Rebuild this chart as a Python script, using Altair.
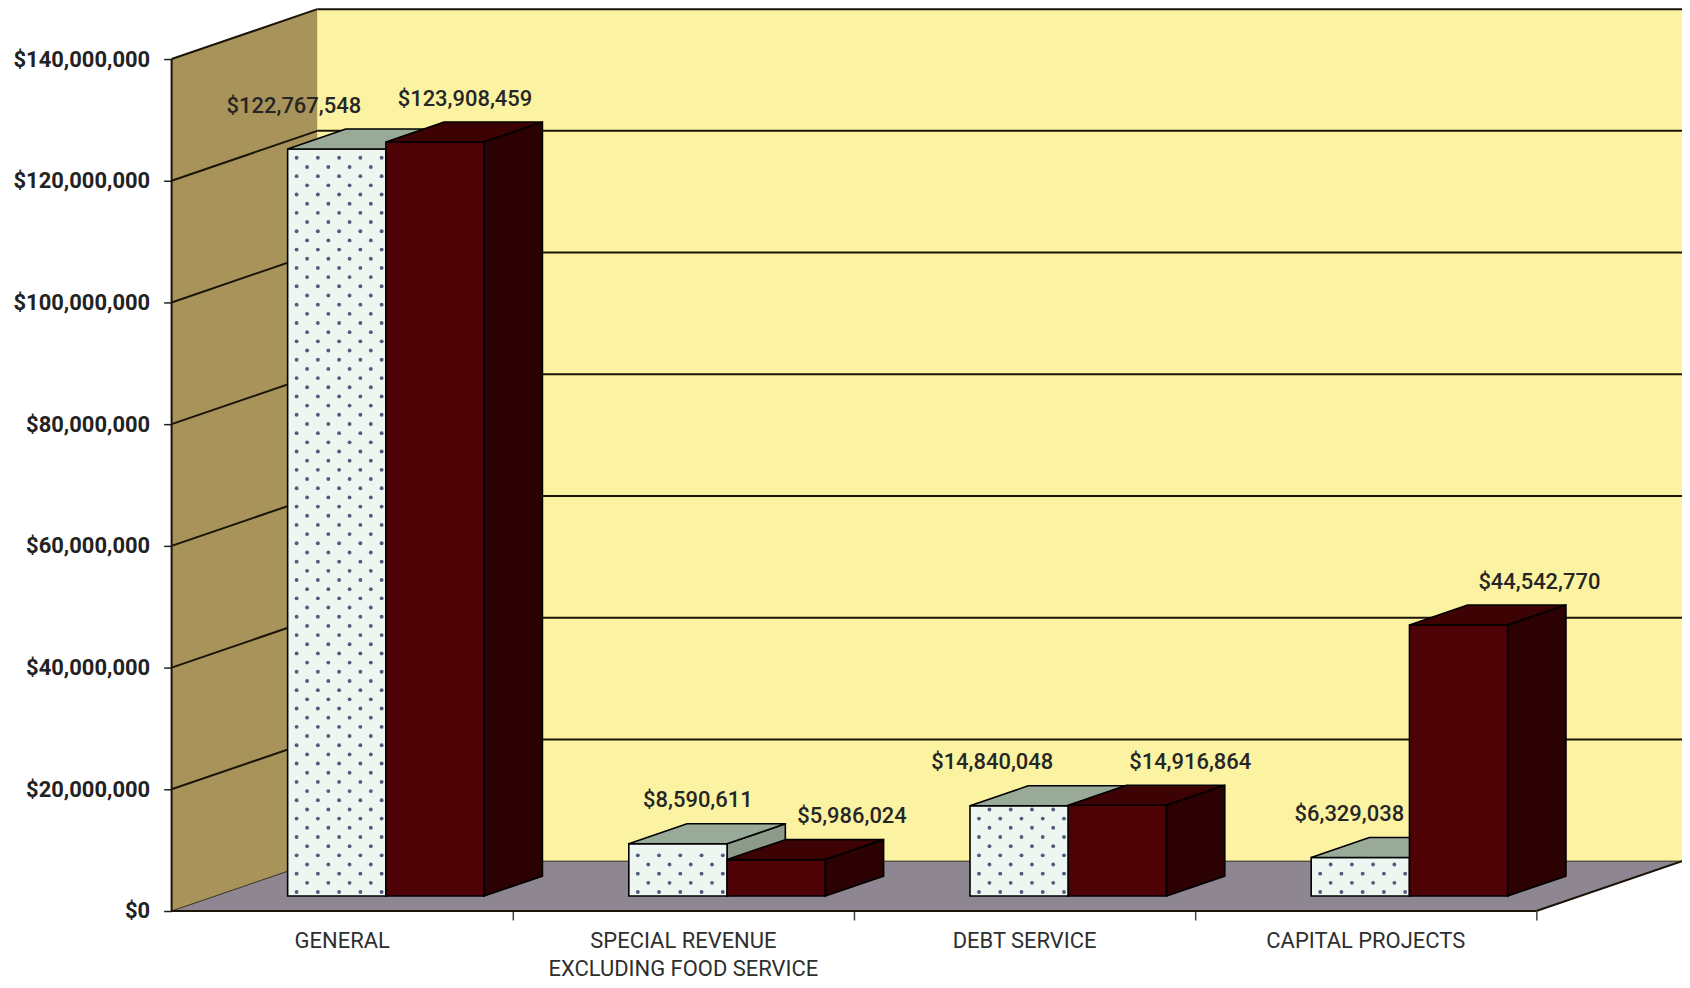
import altair as alt
import pandas as pd

# ---------------- data ----------------
categories = ["GENERAL", "SPECIAL REVENUE\nEXCLUDING FOOD SERVICE", "DEBT SERVICE", "CAPITAL PROJECTS"]
light_values = [122767548, 8590611, 14840048, 6329038]
dark_values = [123908459, 5986024, 14916864, 44542770]
y_tick_values = [0, 20000000, 40000000, 60000000, 80000000, 100000000, 120000000, 140000000]

# ---------------- style / geometry ----------------
label_nudge_light = [-43, 20, -27, -11]   # px nudges of value labels
label_nudge_dark = [30, 76, 73, 81]

CAT_PX = 342.0
DEPTH_X_PX = 146.0
DEPTH_Y_PX = 50.0
PX_PER_YMAX = 854.0
YMAX = 140000000
NCAT = len(categories)
W = NCAT * CAT_PX + DEPTH_X_PX
H = PX_PER_YMAX + DEPTH_Y_PX
XU = 1.0 / CAT_PX            # x units per px
YU = YMAX / PX_PER_YMAX      # dollars per px
DX = DEPTH_X_PX * XU
DY = DEPTH_Y_PX * YU
Z0, Z1 = 0.3, 0.7
BW = 98.5 * XU

FONT = "Roboto"
C_BACK = "#fcf3a2"
C_LEFT = "#a8945a"
C_FLOOR = "#8e8690"
C_LINE = "#1b1408"
C_LIGHT_FRONT = "#eef6f2"
C_LIGHT_TOP = "#9aaa98"
C_LIGHT_SIDE = "#8c9b8a"
C_DARK_FRONT = "#4e0205"
C_DARK_TOP = "#3c0204"
C_DARK_SIDE = "#2b0103"
C_DOT = "#4f5d7a"

xs = alt.Scale(domain=[0, NCAT + DX], nice=False, zero=False)
ys = alt.Scale(domain=[0, YMAX + DY], nice=False, zero=False)

AX_X = alt.Axis(values=[1, 2, 3, 4], labels=False, ticks=True, tickSize=9,
                tickWidth=1.5, tickColor="#444", domain=False, grid=False, title=None)
AX_Y = alt.Axis(values=y_tick_values, format="$,.0f", labelFont=FONT, labelFontSize=22,
                labelFontWeight="bold", labelColor="#222", tickSize=8, tickWidth=1.5,
                tickColor="#222", labelPadding=14, domain=False, grid=False, title=None)


def X(f):
    return alt.X(f, type="quantitative", scale=xs, stack=None, axis=AX_X)


def Y(f):
    return alt.Y(f, type="quantitative", scale=ys, stack=None, axis=AX_Y)


# ---------------- tables built from the arrays ----------------
bars = []
for i, (lv, dv) in enumerate(zip(light_values, dark_values)):
    c = i + 0.5
    bars.append(dict(cat=i, s="light", x0=c - BW, x1=c, v=lv, nudge=label_nudge_light[i]))
    bars.append(dict(cat=i, s="dark", x0=c, x1=c + BW, v=dv, nudge=label_nudge_dark[i]))

front, top, side, labels = [], [], [], []
for b in bars:
    key = f"{b['s']}{b['cat']}"
    front.append(dict(s=b["s"], x=b["x0"] + Z0 * DX, x2=b["x1"] + Z0 * DX, y=Z0 * DY, y2=b["v"] + Z0 * DY))
    for z in (Z0, Z1):
        top.append(dict(s=b["s"], key=key, y=b["v"] + z * DY, x=b["x0"] + z * DX, x2=b["x1"] + z * DX))
        side.append(dict(s=b["s"], key=key, x=b["x1"] + z * DX, y=z * DY, y2=b["v"] + z * DY))
    labels.append(dict(s=b["s"], v=b["v"],
                       x=(b["x0"] + b["x1"]) / 2 + Z0 * DX + b["nudge"] * XU,
                       y=b["v"] + Z1 * DY))

front = pd.DataFrame(front)
top = pd.DataFrame(top)
side = pd.DataFrame(side)
labels = pd.DataFrame(labels)

# dot pattern on the light bars' front faces
dots = []
for b in bars:
    if b["s"] != "light":
        continue
    h_px = b["v"] / YU
    r = 0
    while 4 + r * 9.2 < h_px - 3:
        ypx = 4 + r * 9.2
        start = 9.0 if r % 2 == 0 else 19.5
        k = 0
        while start + k * 21.3 < BW / XU - 1:
            dots.append(dict(x=b["x0"] + Z0 * DX + (start + k * 21.3) * XU,
                             y=Z0 * DY + ypx * YU))
            k += 1
        r += 1
dots = pd.DataFrame(dots)

# frame
grid = []
for v in y_tick_values[1:]:
    grid.append(dict(x=DX, x2=NCAT + DX, y=v + DY, y2=v + DY))
    grid.append(dict(x=0, x2=DX, y=v, y2=v + DY))
grid = pd.DataFrame(grid)

edges = pd.DataFrame([
    dict(x=0, x2=0, y=0, y2=YMAX, w=2.0),
    dict(x=0, x2=NCAT, y=0, y2=0, w=2.0),
    dict(x=NCAT, x2=NCAT + DX, y=0, y2=DY, w=2.0),
    dict(x=0, x2=DX, y=0, y2=DY, w=0.8),
    dict(x=DX, x2=NCAT + DX, y=DY, y2=DY, w=0.8),
])

back_wall = pd.DataFrame([dict(x=DX, x2=NCAT + DX, y=DY, y2=YMAX + DY)])
left_wall = pd.DataFrame([dict(x=0, y=0, y2=YMAX), dict(x=DX, y=DY, y2=YMAX + DY)])
floor = pd.DataFrame([dict(y=0, x=0, x2=NCAT), dict(y=DY, x=DX, x2=NCAT + DX)])
cat_df = pd.DataFrame(dict(x=[i + 0.5 for i in range(NCAT)], y=[0] * NCAT, name=categories))

# ---------------- layers ----------------
back = alt.Chart(back_wall).mark_rect(color=C_BACK).encode(
    x=X("x"), x2="x2", y=Y("y"), y2="y2")

left = alt.Chart(left_wall).mark_area(orient="vertical", color=C_LEFT).encode(
    x=X("x"), y=Y("y"), y2="y2")

flr = alt.Chart(floor).mark_area(orient="horizontal", color=C_FLOOR).encode(
    y=Y("y"), x=X("x"), x2="x2")

grid_l = alt.Chart(grid).mark_rule(color=C_LINE, strokeWidth=2).encode(
    x=X("x"), x2="x2", y=Y("y"), y2="y2")

edge_l = alt.Chart(edges).mark_rule(color=C_LINE).encode(
    x=X("x"), x2="x2", y=Y("y"), y2="y2",
    strokeWidth=alt.StrokeWidth("w:Q", scale=None))

stroke = dict(stroke="#000", strokeWidth=1.6, strokeJoin="miter")


def faces(series, c_front, c_top, c_side):
    f = alt.Chart(front[front.s == series]).mark_rect(color=c_front, **stroke).encode(
        x=X("x"), x2="x2", y=Y("y"), y2="y2")
    t = alt.Chart(top[top.s == series]).mark_area(orient="horizontal", color=c_top, **stroke).encode(
        y=Y("y"), x=X("x"), x2="x2", detail="key:N")
    sd = alt.Chart(side[side.s == series]).mark_area(orient="vertical", color=c_side, **stroke).encode(
        x=X("x"), y=Y("y"), y2="y2", detail="key:N")
    return f, t, sd


lf, lt, ls = faces("light", C_LIGHT_FRONT, C_LIGHT_TOP, C_LIGHT_SIDE)
df_, dt, ds = faces("dark", C_DARK_FRONT, C_DARK_TOP, C_DARK_SIDE)

dot_l = alt.Chart(dots).mark_circle(color=C_DOT, size=15, opacity=1).encode(x=X("x"), y=Y("y"))

val_l = alt.Chart(labels).mark_text(font=FONT, fontSize=22, fontWeight=500, color="#262626",
                                    baseline="middle", align="center", dy=-23.5).encode(
    x=X("x"), y=Y("y"), text=alt.Text("v:Q", format="$,.0f"))

cat_l = alt.Chart(cat_df).mark_text(font=FONT, fontSize=22, color="#2e2e2e", baseline="middle",
                                    align="center", dy=30, lineBreak="\n", lineHeight=28).encode(
    x=X("x"), y=Y("y"), text="name:N")

chart = alt.layer(
    back, left, flr, grid_l, edge_l,
    ls, lf, dot_l, lt,
    df_, dt, ds,
    val_l, cat_l,
).properties(
    width=W, height=H,
    autosize=alt.AutoSizeParams(type="none"),
    padding={"left": 164, "top": 0, "right": 0, "bottom": 68},
    background="white",
).configure_view(stroke=None)

chart.save("out.html", embed_options={"renderer": "svg", "actions": False})
